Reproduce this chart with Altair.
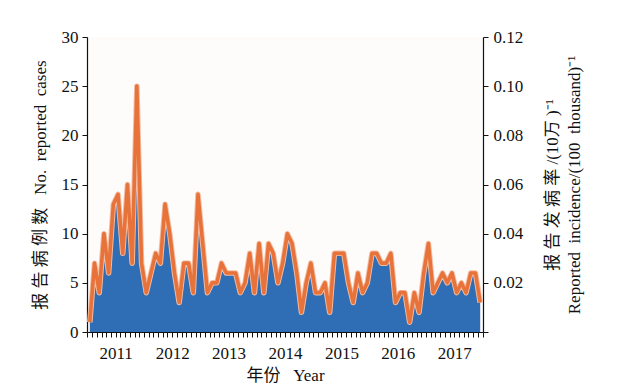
import altair as alt
import pandas as pd

years = [2011, 2012, 2013, 2014, 2015, 2016, 2017]

# Monthly reported cases, Jan 2011 - Dec 2017
cases_2011 = [1, 7, 4, 10, 6, 13, 14, 8, 15, 7, 25, 7]
cases_2012 = [4, 6, 8, 7, 13, 10, 6, 3, 7, 7, 4, 14]
cases_2013 = [9, 4, 5, 5, 7, 6, 6, 6, 4, 5, 8, 4]
cases_2014 = [9, 4, 9, 8, 5, 7, 10, 9, 6, 2, 5, 7]
cases_2015 = [4, 4, 5, 2, 8, 8, 8, 5, 3, 6, 4, 5]
cases_2016 = [8, 8, 7, 7, 8, 3, 4, 4, 1, 4, 2, 6]
cases_2017 = [9, 4, 5, 6, 5, 6, 4, 5, 4, 6, 6, 3]

# Monthly reported incidence (1/100 thousand)
inc_2011 = [0.004, 0.028, 0.016, 0.040, 0.024, 0.052, 0.056, 0.032, 0.060, 0.028, 0.100, 0.028]
inc_2012 = [0.016, 0.024, 0.032, 0.028, 0.052, 0.040, 0.024, 0.012, 0.028, 0.028, 0.016, 0.056]
inc_2013 = [0.036, 0.016, 0.020, 0.020, 0.028, 0.024, 0.024, 0.024, 0.016, 0.020, 0.032, 0.016]
inc_2014 = [0.036, 0.016, 0.036, 0.032, 0.020, 0.028, 0.040, 0.036, 0.024, 0.008, 0.020, 0.028]
inc_2015 = [0.016, 0.016, 0.020, 0.008, 0.032, 0.032, 0.032, 0.020, 0.012, 0.024, 0.016, 0.020]
inc_2016 = [0.032, 0.032, 0.028, 0.028, 0.032, 0.012, 0.016, 0.016, 0.004, 0.016, 0.008, 0.024]
inc_2017 = [0.036, 0.016, 0.020, 0.024, 0.020, 0.024, 0.016, 0.020, 0.016, 0.024, 0.024, 0.012]

left_ticks = [0, 5, 10, 15, 20, 25, 30]
right_ticks = [0, 0.02, 0.04, 0.06, 0.08, 0.10, 0.12]

cases = cases_2011 + cases_2012 + cases_2013 + cases_2014 + cases_2015 + cases_2016 + cases_2017
incidence = inc_2011 + inc_2012 + inc_2013 + inc_2014 + inc_2015 + inc_2016 + inc_2017
months = list(range(1, len(cases) + 1))

df = pd.DataFrame({"month": months, "cases": cases, "incidence": incidence})

month_ticks = [i + 0.5 for i in range(0, 85)]
label_expr = ""
for k, yr in enumerate(years):
    label_expr += f"datum.value == {6.5 + 12 * k} ? '{yr}' : "
label_expr += "''"

FONT = "Liberation Serif, Noto Sans CJK SC"
S = "\u00a0"  # non-breaking space (keeps wide gaps in SVG text)

x_enc = alt.X(
    "month:Q",
    scale=alt.Scale(domain=[0.4, 84.6], nice=False, zero=False),
    axis=alt.Axis(
        values=month_ticks,
        labelExpr=label_expr,
        labelOverlap=False,
        labelFlush=False,
        title=f"年份{S}{S}{S}Year",
        titleFontSize=17,
        tickSize=5,
        labelPadding=8,
        titlePadding=6,
        grid=False,
    ),
)

base = alt.Chart(df)

area = base.mark_area(color="#2F6DB5", opacity=1).encode(
    x=x_enc,
    y=alt.Y(
        "cases:Q",
        scale=alt.Scale(domain=[0, 30], nice=False),
        axis=alt.Axis(
            orient="left",
            values=left_ticks,
            title=f"报{S}告{S}病{S}例{S}数{S}{S}{S}No.{S}{S}reported{S}{S}cases",
            titleFontSize=17,
            tickSize=5,
            labelPadding=4,
            titlePadding=12,
            grid=False,
        ),
    ),
)

right_axis = alt.Axis(
    orient="right",
    values=right_ticks,
    labelExpr="datum.value == 0 ? '' : format(datum.value, '.2f')",
    title=[
        f"报{S}告{S}发{S}病{S}率{S}/(10万{S})⁻¹",
        f"Reported{S}{S}incidence/(100{S}{S}thousand)⁻¹",
    ],
    titleAngle=270,
    titleFontSize=17,
    titleLineHeight=22,
    tickSize=5,
    labelPadding=5,
    titlePadding=17,
    grid=False,
)
y_right = alt.Y("incidence:Q", scale=alt.Scale(domain=[0, 0.12], nice=False), axis=right_axis)

halo = base.mark_line(color="#F3BDA3", strokeWidth=5.5, strokeJoin="round").encode(x=x_enc, y=y_right)
line = base.mark_line(color="#E8733A", strokeWidth=3.6, strokeJoin="round").encode(x=x_enc, y=y_right)

chart = (
    alt.layer(area, alt.layer(halo, line))
    .resolve_scale(y="independent")
    .properties(
        width=396,
        height=295,
        autosize=alt.AutoSizeParams(type="none"),
        padding={"left": 79, "top": 29, "right": 133, "bottom": 56},
        background="white",
    )
    .configure_view(stroke=None, fill="#FDFCFA")
    .configure_axis(
        labelFont=FONT,
        titleFont=FONT,
        labelFontSize=17,
        titleFontWeight="normal",
        labelColor="#111",
        titleColor="#111",
        domainColor="#111",
        tickColor="#111",
        domainWidth=1.2,
    )
)

chart.save("out.html", embed_options={"renderer": "svg", "actions": False})
